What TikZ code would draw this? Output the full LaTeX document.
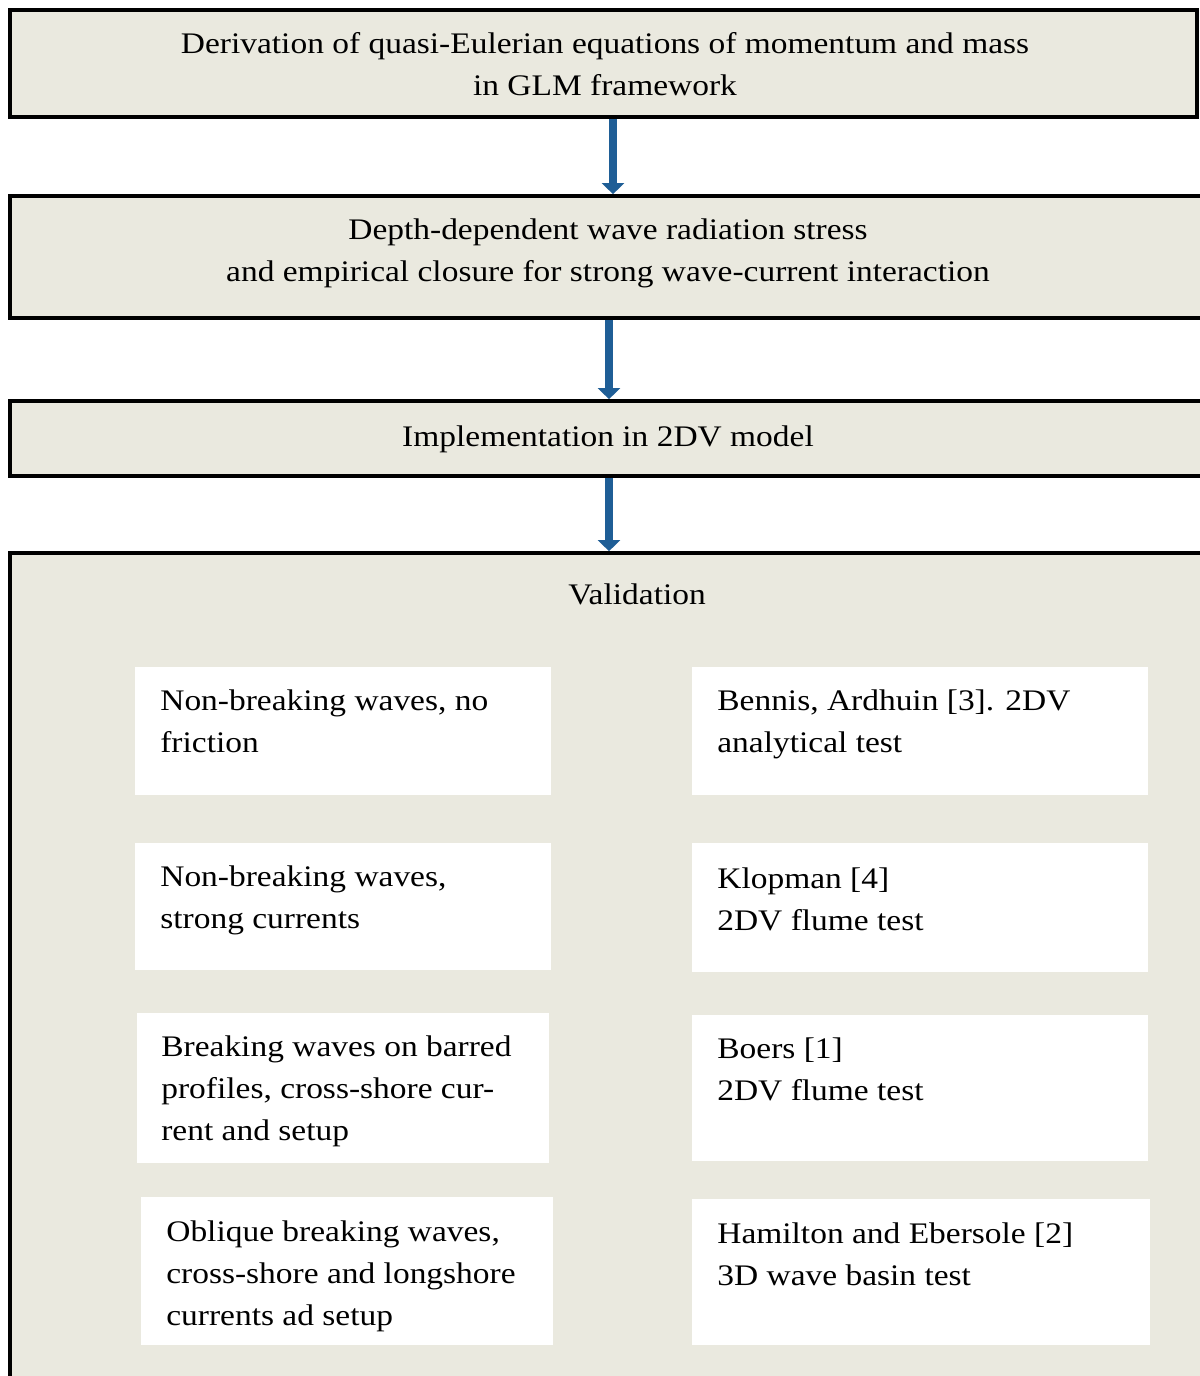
\documentclass[tikz,border=0pt]{standalone}
\usepackage{fontspec}
\setmainfont[FakeStretch=1.12]{Liberation Serif}
\usetikzlibrary{arrows.meta,fit}
\definecolor{boxfill}{RGB}{234,233,223}
\definecolor{arrblue}{RGB}{31,94,150}
\tikzset{
 mainbox/.style={draw=black, line width=2.1pt, fill=boxfill, inner sep=0pt},
 wbox/.style={fill=white, draw=none, inner sep=0pt},
 txt/.style={inner sep=0pt, font=\fontsize{17}{23.8}\selectfont, align=left, anchor=base west},
 ctxt/.style={inner sep=0pt, font=\fontsize{17}{23.8}\selectfont, align=center, anchor=base},
 flow/.style={draw=arrblue, line width=4.5pt, -{Triangle[length=0.22cm,width=0.44cm]}},
}
\begin{document}
\begin{tikzpicture}[x=0.02cm,y=-0.02cm]
\useasboundingbox (0,0) rectangle (1200,1376);
\clip (0,0) rectangle (1200,1376);
% main boxes
\node[mainbox, fit={(10,10)(1197,117)}] (b1) {};
\node[mainbox, fit={(10,196)(1230,318)}] (b2) {};
\node[mainbox, fit={(10,401)(1230,476)}] (b3) {};
\node[mainbox, fit={(10,553)(1230,1430)}] (b4) {};
% arrows
\coordinate (ax1) at (613,0);
\coordinate (ax2) at (609,0);
\draw[flow] (b1.south -| ax1) -- (b2.north -| ax1);
\draw[flow] (b2.south -| ax2) -- (b3.north -| ax2);
\draw[flow] (b3.south -| ax2) -- (b4.north -| ax2);
% main texts (anchor = baseline of last line)
\node[ctxt] (t1) at (605,95) {Derivation of quasi-Eulerian equations of momentum and mass\\in GLM framework};
\node[ctxt] (t2) at (608,281) {Depth-dependent wave radiation stress\\and empirical closure for strong wave-current interaction};
\node[ctxt] (t3) at (608,446) {Implementation in 2DV model};
\node[ctxt] (tv) at (637,604) {Validation};
% inner boxes
\node[wbox, fit={(135,667)(551,795)}] (l1) {};
\node[wbox, fit={(692,667)(1148,795)}] (r1) {};
\node[wbox, fit={(135,843)(551,970)}] (l2) {};
\node[wbox, fit={(692,843)(1148,972)}] (r2) {};
\node[wbox, fit={(137,1013)(549,1163)}] (l3) {};
\node[wbox, fit={(692,1015)(1148,1161)}] (r3) {};
\node[wbox, fit={(141,1197)(553,1345)}] (l4) {};
\node[wbox, fit={(692,1199)(1150,1345)}] (r4) {};
% inner texts (anchor = baseline of last line)
\node[txt] (tl1) at (160,752) {Non-breaking waves, no\\friction};
\node[txt] (tr1) at (717,752) {Bennis, Ardhuin [3]. 2DV\\analytical test};
\node[txt] (tl2) at (160,928) {Non-breaking waves,\\strong currents};
\node[txt] (tr2) at (717,930) {Klopman [4]\\2DV flume test};
\node[txt] (tl3) at (161,1140) {Breaking waves on barred\\profiles, cross-shore cur-\\rent and setup};
\node[txt] (tr3) at (717,1100) {Boers [1]\\2DV flume test};
\node[txt] (tl4) at (166,1325) {Oblique breaking waves,\\cross-shore and longshore\\currents ad setup};
\node[txt] (tr4) at (717,1285) {Hamilton and Ebersole [2]\\3D wave basin test};
\end{tikzpicture}
\end{document}
